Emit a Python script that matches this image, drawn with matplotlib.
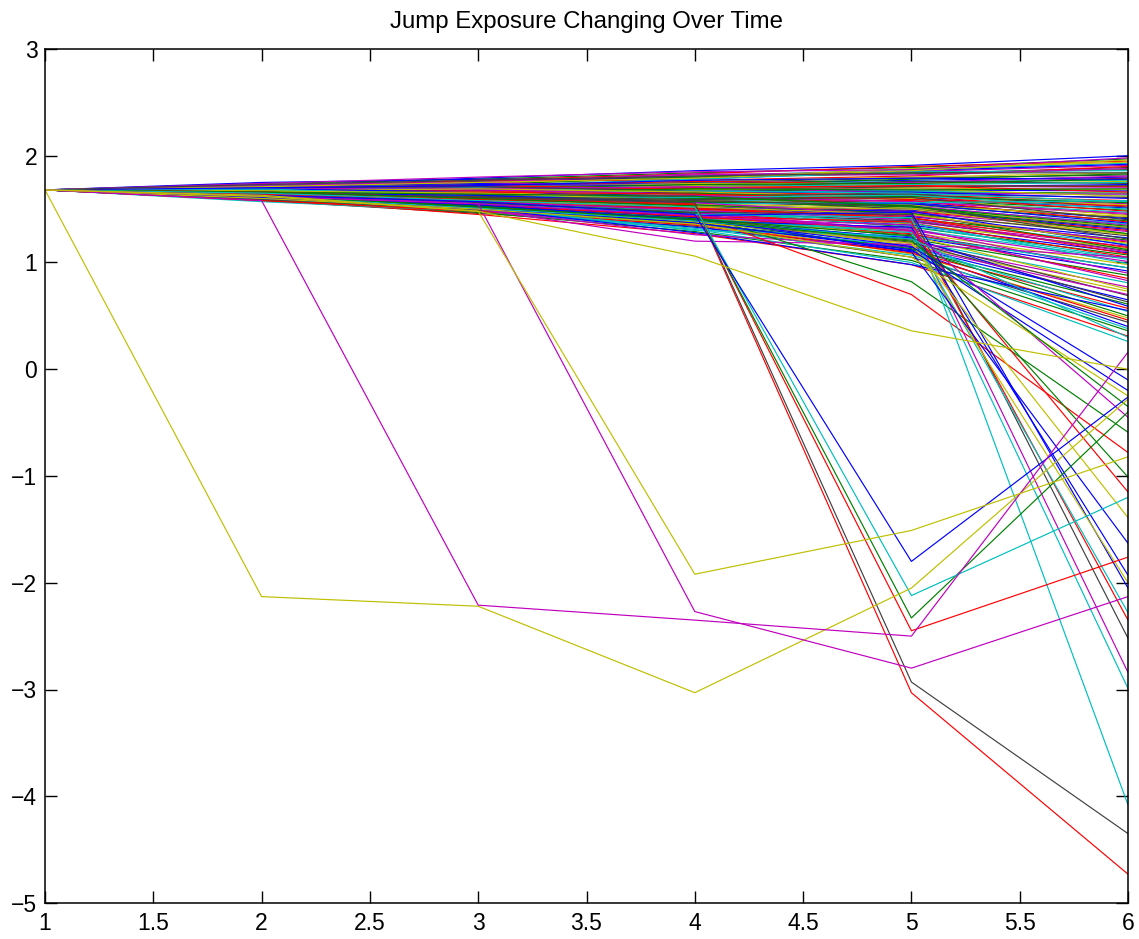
import matplotlib
matplotlib.use('Agg')
import matplotlib.pyplot as plt
from matplotlib.ticker import FormatStrFormatter

# time steps
steps = [1, 2, 3, 4, 5, 6]

# paths that drift slowly (the dense band)
drift_paths = [
    [1.68, 1.72, 1.79, 1.86, 1.91, 2.00],
    [1.68, 1.74, 1.78, 1.84, 1.89, 1.97],
    [1.68, 1.71, 1.77, 1.83, 1.90, 1.95],
    [1.68, 1.73, 1.76, 1.81, 1.87, 1.93],
    [1.68, 1.70, 1.75, 1.82, 1.85, 1.91],
    [1.68, 1.72, 1.74, 1.79, 1.88, 1.94],
    [1.68, 1.69, 1.76, 1.80, 1.83, 1.89],
    [1.68, 1.75, 1.78, 1.78, 1.86, 1.92],
    [1.68, 1.71, 1.73, 1.80, 1.84, 1.87],
    [1.68, 1.70, 1.77, 1.77, 1.81, 1.90],
    [1.68, 1.73, 1.72, 1.78, 1.85, 1.86],
    [1.68, 1.72, 1.75, 1.83, 1.82, 1.88],
    [1.68, 1.70, 1.73, 1.76, 1.80, 1.84],
    [1.68, 1.69, 1.71, 1.75, 1.79, 1.82],
    [1.68, 1.71, 1.74, 1.74, 1.77, 1.80],
    [1.68, 1.72, 1.70, 1.73, 1.78, 1.83],
    [1.68, 1.67, 1.72, 1.76, 1.74, 1.79],
    [1.68, 1.70, 1.69, 1.72, 1.76, 1.77],
    [1.68, 1.73, 1.75, 1.71, 1.75, 1.81],
    [1.68, 1.68, 1.71, 1.74, 1.73, 1.76],
    [1.68, 1.71, 1.70, 1.70, 1.76, 1.74],
    [1.68, 1.69, 1.73, 1.72, 1.71, 1.73],
    [1.68, 1.66, 1.69, 1.73, 1.74, 1.78],
    [1.68, 1.70, 1.72, 1.69, 1.72, 1.71],
    [1.68, 1.72, 1.68, 1.71, 1.73, 1.75],
    [1.68, 1.67, 1.70, 1.70, 1.69, 1.70],
    [1.68, 1.69, 1.67, 1.72, 1.70, 1.68],
    [1.68, 1.71, 1.69, 1.68, 1.71, 1.72],
    [1.68, 1.68, 1.71, 1.67, 1.68, 1.67],
    [1.68, 1.70, 1.68, 1.69, 1.66, 1.65],
    [1.68, 1.65, 1.67, 1.70, 1.72, 1.66],
    [1.68, 1.69, 1.70, 1.66, 1.67, 1.63],
    [1.68, 1.72, 1.69, 1.71, 1.65, 1.64],
    [1.68, 1.67, 1.66, 1.68, 1.69, 1.62],
    [1.68, 1.70, 1.71, 1.67, 1.64, 1.61],
    [1.68, 1.66, 1.68, 1.65, 1.66, 1.60],
    [1.68, 1.69, 1.65, 1.69, 1.68, 1.69],
    [1.68, 1.68, 1.67, 1.66, 1.63, 1.58],
    [1.68, 1.66, 1.65, 1.67, 1.65, 1.57],
    [1.68, 1.70, 1.68, 1.64, 1.62, 1.55],
    [1.68, 1.67, 1.69, 1.66, 1.61, 1.54],
    [1.68, 1.65, 1.64, 1.63, 1.64, 1.52],
    [1.68, 1.69, 1.66, 1.62, 1.60, 1.51],
    [1.68, 1.67, 1.63, 1.65, 1.59, 1.49],
    [1.68, 1.64, 1.65, 1.61, 1.62, 1.48],
    [1.68, 1.68, 1.64, 1.60, 1.58, 1.47],
    [1.68, 1.66, 1.62, 1.63, 1.57, 1.45],
    [1.68, 1.65, 1.66, 1.59, 1.60, 1.44],
    [1.68, 1.67, 1.61, 1.62, 1.55, 1.42],
    [1.68, 1.63, 1.63, 1.58, 1.56, 1.41],
    [1.68, 1.66, 1.60, 1.61, 1.54, 1.39],
    [1.68, 1.64, 1.62, 1.57, 1.58, 1.38],
    [1.68, 1.65, 1.59, 1.60, 1.52, 1.36],
    [1.68, 1.62, 1.61, 1.56, 1.53, 1.35],
    [1.68, 1.67, 1.64, 1.55, 1.51, 1.33],
    [1.68, 1.63, 1.58, 1.59, 1.50, 1.32],
    [1.68, 1.65, 1.60, 1.54, 1.49, 1.31],
    [1.68, 1.66, 1.63, 1.60, 1.62, 1.56],
    [1.68, 1.64, 1.66, 1.64, 1.59, 1.53],
    [1.68, 1.69, 1.62, 1.61, 1.63, 1.50],
    [1.68, 1.62, 1.64, 1.62, 1.57, 1.46],
    [1.68, 1.67, 1.65, 1.58, 1.54, 1.43],
    [1.68, 1.63, 1.62, 1.59, 1.61, 1.40],
    [1.68, 1.65, 1.63, 1.56, 1.55, 1.37],
    [1.68, 1.61, 1.59, 1.57, 1.52, 1.34],
    [1.68, 1.64, 1.61, 1.53, 1.48, 1.30],
    [1.68, 1.66, 1.58, 1.55, 1.56, 1.58],
    [1.68, 1.63, 1.60, 1.52, 1.47, 1.29],
    [1.68, 1.62, 1.57, 1.55, 1.45, 1.27],
    [1.68, 1.64, 1.59, 1.50, 1.46, 1.25],
    [1.68, 1.61, 1.56, 1.53, 1.43, 1.23],
    [1.68, 1.63, 1.58, 1.51, 1.41, 1.21],
    [1.68, 1.60, 1.57, 1.49, 1.44, 1.19],
    [1.68, 1.62, 1.55, 1.52, 1.40, 1.17],
    [1.68, 1.64, 1.56, 1.48, 1.38, 1.15],
    [1.68, 1.61, 1.54, 1.50, 1.36, 1.13],
    [1.68, 1.63, 1.57, 1.47, 1.39, 1.11],
    [1.68, 1.60, 1.53, 1.46, 1.35, 1.09],
    [1.68, 1.62, 1.55, 1.49, 1.33, 1.07],
    [1.68, 1.61, 1.52, 1.45, 1.37, 1.05],
    [1.68, 1.59, 1.54, 1.44, 1.31, 1.03],
    [1.68, 1.62, 1.51, 1.47, 1.30, 1.01],
    [1.68, 1.63, 1.56, 1.53, 1.50, 1.26],
    [1.68, 1.65, 1.61, 1.58, 1.53, 1.22],
    [1.68, 1.60, 1.55, 1.51, 1.48, 1.16],
    [1.68, 1.64, 1.58, 1.54, 1.46, 1.12],
    [1.68, 1.61, 1.57, 1.50, 1.42, 1.08],
    [1.68, 1.62, 1.53, 1.48, 1.34, 1.04],
    [1.68, 1.66, 1.60, 1.56, 1.44, 1.20],
    [1.68, 1.60, 1.52, 1.43, 1.28, 0.98],
    [1.68, 1.61, 1.50, 1.42, 1.26, 0.95],
    [1.68, 1.59, 1.51, 1.45, 1.24, 0.92],
    [1.68, 1.62, 1.54, 1.41, 1.22, 0.88],
    [1.68, 1.60, 1.49, 1.40, 1.27, 0.85],
    [1.68, 1.63, 1.53, 1.44, 1.20, 0.81],
    [1.68, 1.58, 1.50, 1.39, 1.18, 0.77],
    [1.68, 1.61, 1.52, 1.42, 1.16, 0.73],
    [1.68, 1.59, 1.48, 1.38, 1.21, 0.69],
    [1.68, 1.62, 1.51, 1.37, 1.14, 0.65],
    [1.68, 1.60, 1.49, 1.40, 1.12, 0.61],
    [1.68, 1.58, 1.47, 1.36, 1.10, 0.57],
    [1.68, 1.61, 1.50, 1.35, 1.15, 0.54],
    [1.68, 1.59, 1.48, 1.41, 1.32, 0.90],
    [1.68, 1.60, 1.50, 1.38, 1.08, 0.48],
    [1.68, 1.58, 1.46, 1.34, 1.05, 0.44],
    [1.68, 1.61, 1.49, 1.33, 1.11, 0.40],
    [1.68, 1.59, 1.47, 1.29, 1.02, 0.36],
    [1.68, 1.60, 1.45, 1.27, 0.98, 0.31],
    [1.68, 1.57, 1.48, 1.31, 1.00, 0.26],
    [1.68, 1.74, 1.80, 1.85, 1.87, 1.98],
    [1.68, 1.71, 1.75, 1.79, 1.86, 1.96],
    [1.68, 1.73, 1.77, 1.81, 1.84, 1.84],
    [1.68, 1.70, 1.72, 1.77, 1.79, 1.78],
    [1.68, 1.66, 1.64, 1.62, 1.53, 1.27],
    [1.68, 1.63, 1.59, 1.51, 1.42, 1.14],
    [1.68, 1.62, 1.56, 1.48, 1.37, 0.99],
    [1.68, 1.60, 1.54, 1.46, 1.29, 0.83],
    [1.68, 1.61, 1.53, 1.43, 1.25, 0.75],
    [1.68, 1.59, 1.51, 1.41, 1.19, 0.63],
    [1.68, 1.62, 1.52, 1.39, 1.23, 0.59],
    [1.68, 1.60, 1.49, 1.37, 1.13, 0.50],
    [1.68, 1.58, 1.48, 1.35, 1.09, 0.46],
    [1.68, 1.61, 1.50, 1.32, 1.07, 0.38],
    [1.68, 1.64, 1.57, 1.49, 1.40, 1.10],
    [1.68, 1.65, 1.59, 1.52, 1.45, 1.18],
]

# paths with a visible jump, and their colour codes
jump_paths = [
    [1.68, 1.62, 1.50, 1.20, 1.17, 1.05],
    [1.68, 1.63, 1.52, 1.30, 1.25, 0.95],
    [1.68, 1.60, 1.51, 1.28, 0.98, 0.55],
    [1.68, 1.61, 1.50, 1.26, 1.15, 0.70],
    [1.68, 1.63, 1.55, 1.45, 0.70, -0.78],
    [1.68, 1.64, 1.56, 1.46, 0.82, -0.59],
    [1.68, 1.64, 1.55, 1.45, 1.42, -4.08],
    [1.68, 1.62, 1.53, 1.40, 1.30, -2.99],
    [1.68, 1.63, 1.54, 1.42, 1.35, -2.84],
    [1.68, 1.65, 1.56, 1.47, 1.45, -2.52],
    [1.68, 1.61, 1.52, 1.43, 1.38, -2.35],
    [1.68, 1.63, 1.55, 1.41, 1.28, -2.28],
    [1.68, 1.64, 1.53, 1.44, 1.47, -2.05],
    [1.68, 1.62, 1.51, 1.40, 1.20, -2.00],
    [1.68, 1.60, 1.50, 1.39, 1.33, -1.93],
    [1.68, 1.63, 1.55, 1.42, 1.10, -1.63],
    [1.68, 1.61, 1.52, 1.38, 1.18, -1.39],
    [1.68, 1.64, 1.54, 1.43, 1.30, -1.15],
    [1.68, 1.62, 1.53, 1.41, 1.25, -1.01],
    [1.68, 1.61, 1.52, 1.37, 1.12, -0.20],
    [1.68, 1.63, 1.54, 1.40, 1.15, -0.10],
    [1.68, 1.62, 1.51, 1.39, 1.22, 0.30],
    [1.68, 1.64, 1.55, 1.44, 1.30, -0.45],
    [1.68, 1.60, 1.50, 1.36, 1.05, -0.25],
    [1.68, 1.63, 1.52, 1.40, 1.20, -0.35],
    [1.68, 1.66, 1.60, 1.55, -3.03, -4.73],
    [1.68, 1.65, 1.61, 1.56, -2.93, -4.35],
    [1.68, 1.64, 1.59, 1.54, -2.45, -1.76],
    [1.68, 1.66, 1.60, 1.53, -2.33, -0.40],
    [1.68, 1.65, 1.58, 1.52, -2.12, -1.20],
    [1.68, 1.63, 1.57, 1.45, -1.80, -0.26],
    [1.68, -2.13, -2.22, -3.03, -2.05, -0.28],
    [1.68, 1.58, -2.21, -2.35, -2.50, 0.16],
    [1.68, 1.62, 1.55, -2.27, -2.80, -2.13],
    [1.68, 1.62, 1.48, -1.92, -1.51, -0.82],
    [1.68, 1.63, 1.48, 1.06, 0.36, 0.00],
]
jump_codes = ['m', 'c', 'b', 'm', 'r', 'g',
              'c', 'c', 'm', 'k', 'r', 'c', 'b', 'y', 'b', 'b', 'y', 'r', 'g',
              'b', 'b', 'c', 'm', 'y', 'g',
              'r', 'k', 'r', 'g', 'c', 'b',
              'y', 'm', 'm', 'y', 'y']

MATLAB = {'b': (0, 0, 1), 'g': (0, 0.5, 0), 'r': (1, 0, 0),
          'c': (0, 0.75, 0.75), 'm': (0.75, 0, 0.75),
          'y': (0.75, 0.75, 0), 'k': (0.25, 0.25, 0.25)}
cycle = [MATLAB[k] for k in 'bgrcmyk']

plt.rcParams['font.family'] = ['Liberation Sans', 'DejaVu Sans']

fig = plt.figure(figsize=(11.39, 9.39), dpi=100)
ax = fig.add_axes([45 / 1139, 1 - 903 / 939, 1083 / 1139, 854 / 939])

for i, p in enumerate(drift_paths):
    ax.plot(steps, p, color=cycle[i % 7], lw=0.85)
for p, c in zip(jump_paths, jump_codes):
    ax.plot(steps, p, color=MATLAB[c], lw=0.85)

ax.set_xlim(1, 6)
ax.set_ylim(-5, 3)
ax.set_xticks([1, 1.5, 2, 2.5, 3, 3.5, 4, 4.5, 5, 5.5, 6])
ax.set_yticks(range(-5, 4))
ax.xaxis.set_major_formatter(FormatStrFormatter('%g'))
ax.tick_params(direction='in', length=8.5, width=1, top=True, right=True,
               labelsize=16.5)
ax.tick_params(axis='x', pad=6.5)
ax.tick_params(axis='y', pad=5.5)
for s in ax.spines.values():
    s.set_linewidth(1.1)

ax.set_title('Jump Exposure Changing Over Time', fontsize=17.3, pad=15)

fig.savefig('out.png', dpi=100)
